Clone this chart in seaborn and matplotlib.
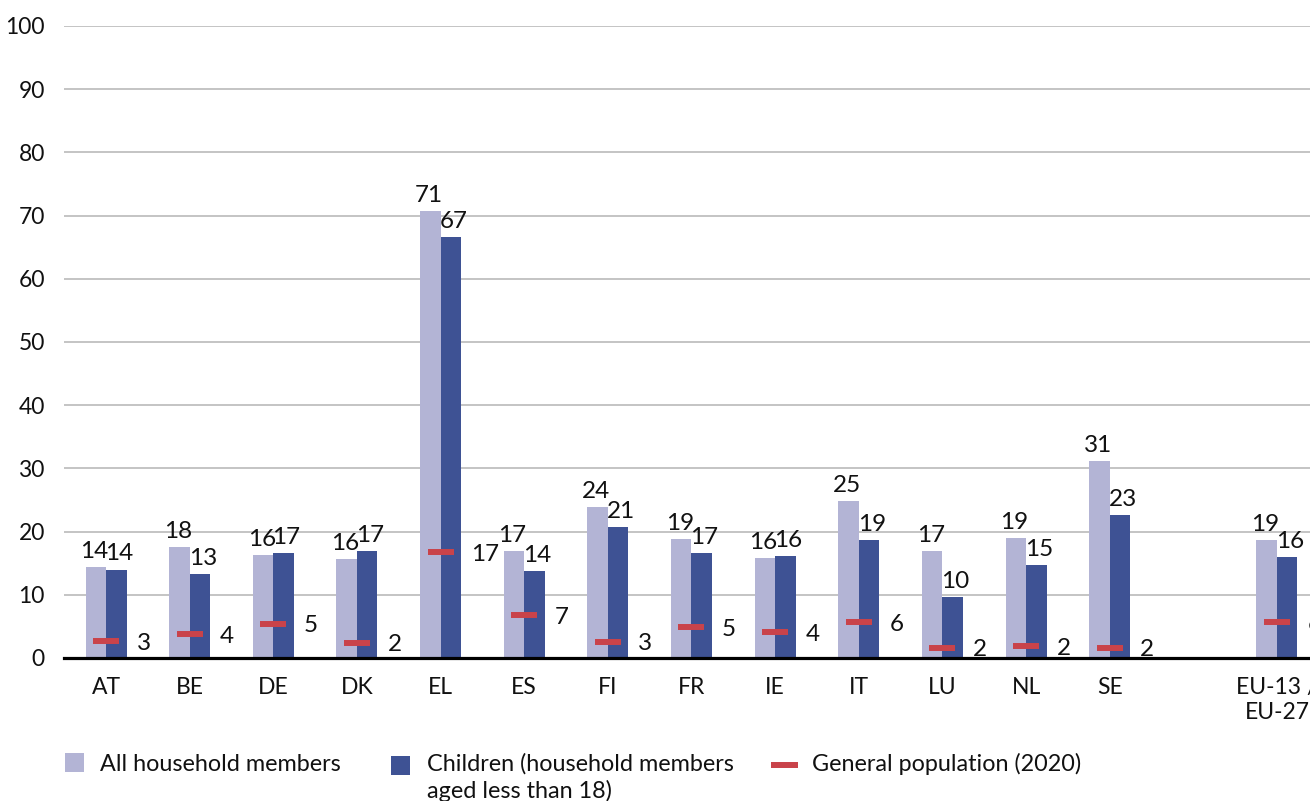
import numpy as np
import pandas as pd
import matplotlib
matplotlib.use("Agg")
import matplotlib.pyplot as plt
from matplotlib.patches import Rectangle
from matplotlib.lines import Line2D
import seaborn as sns

# ---------------- data ----------------
countries = ["AT", "BE", "DE", "DK", "EL", "ES", "FI", "FR", "IE", "IT", "LU", "NL", "SE", "EU-13 /\nEU-27"]
all_household = [14.4, 17.6, 16.3, 15.6, 70.8, 17.0, 23.9, 18.8, 15.8, 24.9, 16.9, 19.0, 31.1, 18.6]
children = [14.0, 13.3, 16.6, 16.9, 66.6, 13.7, 20.7, 16.6, 16.1, 18.6, 9.6, 14.7, 22.6, 16.0]
general_pop = [2.7, 3.8, 5.4, 2.4, 16.7, 6.8, 2.6, 4.9, 4.1, 5.7, 1.6, 1.9, 1.6, 5.7]
series_names = ["All household members", "Children (household members\naged less than 18)", "General population (2020)"]
yticks = [0, 10, 20, 30, 40, 50, 60, 70, 80, 90, 100]

# ---------------- style ----------------
sns.set_style("white")
plt.rcParams["font.family"] = ["Lato", "DejaVu Sans"]
LIGHT = "#b3b4d5"
DARK = "#3e5294"
RED = "#c9434a"
FS_TICK = 16.5
FS_VAL = 17.5
FS_LEG = 16.8
TXT = "#111111"

W, H = 1310, 801
fig = plt.figure(figsize=(W / 100, H / 100), dpi=100)
ax = fig.add_axes([64.2 / W, (H - 658) / H, 1254.6 / W, 632 / H])

# order with an empty slot between SE and the EU aggregate
gap_label = " "
order = countries[:13] + [gap_label] + countries[13:]
pos = {c: order.index(c) for c in countries}

df = pd.DataFrame({
    "country": countries * 2,
    "series": [series_names[0]] * len(countries) + [series_names[1]] * len(countries),
    "value": all_household + children,
})

sns.barplot(data=df, x="country", y="value", hue="series", order=order,
            hue_order=series_names[:2], palette=[LIGHT, DARK], width=0.49,
            saturation=1, errorbar=None, legend=False, ax=ax, zorder=2,
            linewidth=0, edgecolor="none")

xs = np.array([pos[c] for c in countries], dtype=float)
ax.plot(xs, general_pop, ls="none", marker="_", ms=19.4, mew=4.3, color=RED, zorder=3)

# value labels
off = 0.1225
for x, a, c, g in zip(xs, all_household, children, general_pop):
    ax.annotate(f"{a:.0f}", (x - off, a), xytext=(-1, 6.5), textcoords="offset points",
                ha="center", va="baseline", fontsize=FS_VAL, color=TXT, annotation_clip=False)
    ax.annotate(f"{c:.0f}", (x + off, c), xytext=(2, 6.5), textcoords="offset points",
                ha="center", va="baseline", fontsize=FS_VAL, color=TXT, annotation_clip=False)
    ax.annotate(f"{g:.0f}", (x, g), xytext=(22, -6.2), textcoords="offset points",
                ha="left", va="baseline", fontsize=FS_VAL, color=TXT, annotation_clip=False)

# axes styling
ax.set_xlim(-0.5, len(order) - 0.5)
ax.set_ylim(0, 100)
ax.set_yticks(yticks)
ax.set_yticklabels([str(t) for t in yticks])
ax.set_xticks(range(len(order)))
ax.set_xticklabels(order)
ax.set_xlabel("")
ax.set_ylabel("")
ax.yaxis.grid(True, color="#b4b4b4", lw=1.1)
ax.xaxis.grid(False)
ax.set_axisbelow(True)
for s in ["left", "right", "top"]:
    ax.spines[s].set_visible(False)
ax.spines["bottom"].set_color("black")
ax.spines["bottom"].set_linewidth(2.3)
ax.spines["bottom"].set_zorder(4)
ax.tick_params(axis="y", length=0, pad=14, labelsize=FS_TICK, labelcolor=TXT)
ax.tick_params(axis="x", length=0, pad=14, labelsize=FS_TICK, labelcolor=TXT)

# manual legend (pixel layout -> figure fractions)
def fx(x):
    return x / W

def fy(y):
    return 1 - y / H

fig.add_artist(Rectangle((fx(65), fy(772)), 19 / W, 19 / H, transform=fig.transFigure,
                         facecolor=LIGHT, edgecolor="none"))
fig.text(fx(100), fy(771), series_names[0], fontsize=FS_LEG, va="baseline", ha="left", color=TXT)
fig.add_artist(Rectangle((fx(391), fy(775)), 19 / W, 19 / H, transform=fig.transFigure,
                         facecolor=DARK, edgecolor="none"))
line1, line2 = series_names[1].split("\n")
fig.text(fx(427), fy(771), line1, fontsize=FS_LEG, va="baseline", ha="left", color=TXT)
fig.text(fx(427), fy(798), line2, fontsize=FS_LEG, va="baseline", ha="left", color=TXT)
fig.add_artist(Line2D([fx(771), fx(798)], [fy(765), fy(765)], transform=fig.transFigure,
                      color=RED, lw=4.3, solid_capstyle="butt"))
fig.text(fx(812), fy(771), series_names[2], fontsize=FS_LEG, va="baseline", ha="left", color=TXT)

fig.savefig("out.png", dpi=100)
